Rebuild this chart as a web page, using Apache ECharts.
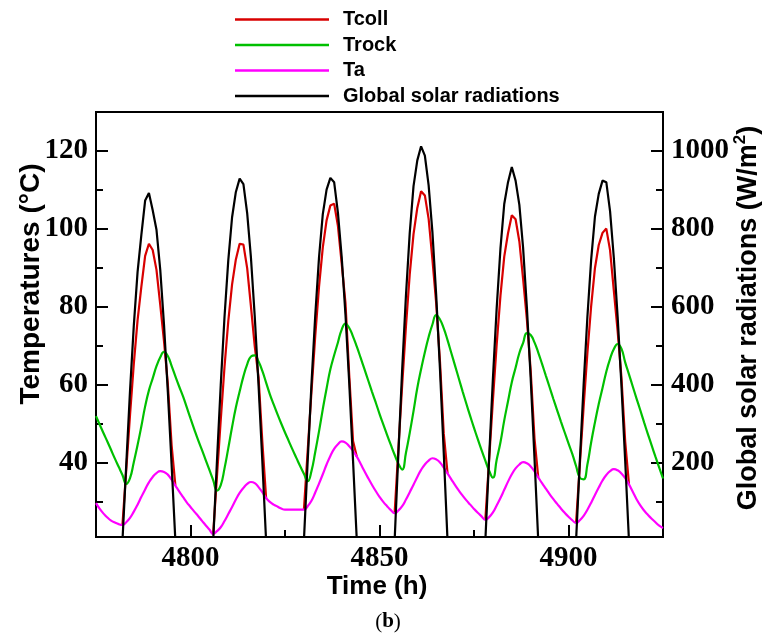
<!DOCTYPE html>
<html>
<head>
<meta charset="utf-8">
<script src="https://cdn.jsdelivr.net/npm/echarts@6/dist/echarts.min.js"></script>
<style>
  html, body { margin: 0; padding: 0; background: #ffffff; }
  #chart { width: 763px; height: 637px; }
</style>
</head>
<body>
<div id="chart"></div>
<script>
// Hourly records starting at hour 4775
const startHour = 4775;

// Ambient temperature Ta (°C), one value per hour, 4775..4925
const taValues = [
  29.7, 28.2, 27.0, 26.0, 25.2, 24.7, 24.3, 24.1,
  24.8, 25.9, 27.5, 29.3, 31.3, 33.2, 35.0, 36.4, 37.4, 37.9,
  37.7, 37.0, 35.7, 34.2, 32.7, 31.3, 29.9, 28.7, 27.5, 26.4, 25.2, 24.0, 22.9, 21.8,
  22.5, 23.5, 25.1, 26.9, 28.7, 30.6, 32.3, 33.6, 34.6, 35.1,
  34.8, 33.8, 32.5, 31.0, 30.0, 29.3, 28.8, 28.3, 28.0, 28.0, 28.0, 28.0, 28.0, 28.0,
  28.9, 30.3, 32.4, 34.7, 37.1, 39.6, 41.8, 43.6, 44.8, 45.5,
  45.2, 44.3, 43.1, 41.6, 39.8, 37.9, 36.1, 34.4, 32.8, 31.3, 30.0, 28.9, 27.9, 27.1,
  27.8, 28.9, 30.6, 32.5, 34.4, 36.4, 38.2, 39.6, 40.6, 41.2,
  40.9, 40.1, 38.8, 37.3, 35.8, 34.3, 32.9, 31.6, 30.4, 29.3, 28.2, 27.2, 26.3, 25.4,
  26.1, 27.3, 29.1, 31.0, 33.1, 35.2, 37.1, 38.6, 39.6, 40.2,
  39.9, 39.1, 37.8, 36.3, 34.8, 33.4, 32.0, 30.7, 29.5, 28.3, 27.2, 26.2, 25.3, 24.6,
  25.3, 26.4, 28.0, 29.8, 31.8, 33.7, 35.5, 36.9, 37.9, 38.4,
  38.1, 37.3, 36.1, 34.5, 32.6, 30.7, 29.1, 27.8, 26.7, 25.7, 24.8, 23.9, 23.3
];

// Rock bed temperature Trock (°C), one value per hour, 4775..4925
const trockValues = [
  52.0, 49.8, 47.6, 45.5, 43.3, 41.1, 39.0, 36.9, 34.6,
  36.1, 40.2, 44.6, 49.4, 54.5, 58.6, 61.7, 64.8, 67.1, 68.5,
  67.4, 64.9, 62.2, 59.6, 57.1, 54.3, 51.4, 48.6, 45.9, 43.4, 40.8, 38.2, 35.6, 32.9,
  34.3, 38.6, 43.8, 49.2, 54.2, 58.3, 62.2, 65.3, 67.3, 67.6,
  66.0, 63.6, 60.6, 57.6, 55.0, 52.5, 50.1, 47.8, 45.6, 43.4, 41.3, 39.2, 37.2, 35.3,
  37.9, 42.8, 48.1, 53.8, 59.1, 64.0, 67.6, 70.9, 74.2, 75.7,
  74.6, 72.4, 69.8, 67.0, 64.1, 61.2, 58.3, 55.5, 52.6, 49.9, 47.2, 44.6, 42.1, 39.8, 38.3,
  42.6, 47.7, 53.3, 59.2, 64.0, 68.4, 72.3, 75.5, 77.9,
  76.8, 74.5, 71.5, 68.2, 64.9, 61.6, 58.3, 55.1, 52.0, 49.0, 46.1, 43.3, 40.6, 38.0, 36.2,
  40.8, 45.3, 50.9, 55.8, 60.7, 64.4, 68.2, 70.8, 73.3,
  72.8, 70.9, 68.3, 65.4, 62.4, 59.4, 56.4, 53.5, 50.6, 47.8, 45.0, 42.3, 39.2, 36.2, 35.8,
  39.6, 45.3, 50.4, 55.1, 59.2, 63.4, 66.7, 69.2, 70.5,
  69.3, 65.8, 62.7, 59.6, 56.5, 53.5, 50.4, 47.4, 44.5, 41.6, 38.8, 36.0
];

// First daylight hour of each day; daytime series run 15 hours from it
const sunriseHours = [4782, 4806, 4830, 4854, 4878, 4902];

// Global solar radiation (W/m2), hourly through each day
const radiationByDay = [
  [0, 195, 385, 552, 690, 785, 873, 892, 848, 798, 695, 553, 383, 196, 0],
  [0, 205, 400, 575, 720, 830, 895, 929, 915, 840, 725, 575, 400, 205, 0],
  [0, 205, 402, 578, 727, 838, 901, 931, 920, 842, 728, 580, 404, 206, 0],
  [0, 225, 440, 630, 790, 910, 976, 1012, 988, 912, 792, 630, 440, 225, 0],
  [0, 213, 416, 597, 750, 864, 920, 959, 924, 862, 750, 597, 416, 213, 0],
  [0, 205, 400, 575, 722, 832, 890, 924, 920, 845, 725, 575, 400, 205, 0]
];

// Collector temperature Tcoll (°C), hourly through each day (equals Ta at night)
const tcollByDay = [
  [24.1, 38.2, 52.3, 65.4, 76.6, 85.2, 93.1, 96.2, 94.6, 89.5, 80.5, 71.1, 60.3, 44.6, 34.2],
  [21.8, 36.6, 51.0, 64.7, 76.4, 85.8, 92.2, 96.2, 96.0, 89.9, 80.0, 69.9, 62.0, 45.5, 31.0],
  [28.0, 43.1, 58.2, 72.6, 85.2, 95.3, 102.2, 106.0, 106.5, 100.8, 91.1, 81.0, 62.4, 45.6, 41.6],
  [27.1, 43.7, 60.0, 75.1, 88.4, 98.7, 105.4, 109.7, 108.6, 102.6, 92.2, 80.9, 66.0, 47.5, 37.3],
  [25.4, 40.8, 56.1, 70.4, 82.9, 92.9, 98.9, 103.5, 102.5, 96.8, 87.1, 76.7, 63.6, 46.3, 36.3],
  [24.6, 39.6, 54.4, 68.2, 80.3, 90.0, 95.9, 99.0, 100.1, 94.5, 84.1, 73.8, 62.0, 45.5, 34.5]
];

// Axis ticks
const xTickLabels = [4800, 4850, 4900];
const xMinorTicks = [4825, 4875];
const tempTickLabels = [40, 60, 80, 100, 120];
const tempMinorTicks = [30, 50, 70, 90, 110];
const radTickLabels = [200, 400, 600, 800, 1000];
const radMinorTicks = [100, 300, 500, 700, 900];

const seriesNames = ['Tcoll', 'Trock', 'Ta', 'Global solar radiations'];

// ---- helpers turning the arrays into [x, y] points ----
const hourly = vals => vals.map((v, i) => [startHour + i, v]);
const daily = days => days.flatMap((vals, d) =>
  vals.map((v, j) => [sunriseHours[d] + j, v]).concat([[sunriseHours[d] + vals.length, '-']]));

const SANS = '"Liberation Sans", Arial, Helvetica, sans-serif';
const SERIF = '"Liberation Serif", "Times New Roman", Times, serif';
const BLACK = '#000000';

const tickLabelStyle = {
  fontFamily: SERIF, fontWeight: 'bold', fontSize: 29, color: BLACK,
  formatter: v => String(v)
};
const tickLine = { color: BLACK, width: 2 };

function mainAxis(extra) {
  return Object.assign({
    type: 'value',
    axisLine: { show: true, onZero: false, lineStyle: { color: BLACK, width: 2 } },
    splitLine: { show: false }
  }, extra);
}
function minorAxis(extra) {
  return Object.assign({
    type: 'value',
    axisLine: { show: false },
    splitLine: { show: false },
    axisLabel: { show: false }
  }, extra);
}

const chart = echarts.init(document.getElementById('chart'), null, { renderer: 'canvas' });

const option = {
  backgroundColor: '#ffffff',
  animation: false,
  grid: {
    left: 96, right: 100, top: 112, bottom: 100,
    show: true, borderColor: BLACK, borderWidth: 2, backgroundColor: 'transparent'
  },
  legend: {
    data: seriesNames,
    orient: 'vertical',
    left: 235, top: 9.5,
    padding: 0,
    icon: 'rect',
    itemWidth: 94, itemHeight: 2.5,
    itemGap: 5.5,
    selectedMode: false,
    textStyle: {
      fontFamily: SANS, fontWeight: 'bold', fontSize: 20, lineHeight: 20,
      color: BLACK, padding: [0, 0, 0, 9]
    }
  },
  xAxis: [
    mainAxis({
      min: 4775, max: 4925, position: 'bottom',
      axisTick: { show: true, inside: true, length: 12, customValues: xTickLabels, lineStyle: tickLine },
      axisLabel: Object.assign({ show: true, margin: 7, customValues: xTickLabels }, tickLabelStyle)
    }),
    minorAxis({
      min: 4775, max: 4925, position: 'bottom',
      axisTick: { show: true, inside: true, length: 7, customValues: xMinorTicks, lineStyle: tickLine }
    })
  ],
  yAxis: [
    mainAxis({
      min: 21, max: 130, position: 'left',
      axisTick: { show: true, inside: true, length: 12, customValues: tempTickLabels, lineStyle: tickLine },
      axisLabel: Object.assign({ show: true, margin: 8, customValues: tempTickLabels }, tickLabelStyle)
    }),
    minorAxis({
      min: 21, max: 130, position: 'left',
      axisTick: { show: true, inside: true, length: 7, customValues: tempMinorTicks, lineStyle: tickLine }
    }),
    mainAxis({
      min: 10, max: 1100, position: 'right',
      axisTick: { show: true, inside: true, length: 12, customValues: radTickLabels, lineStyle: tickLine },
      axisLabel: Object.assign({ show: true, margin: 8, customValues: radTickLabels }, tickLabelStyle)
    }),
    minorAxis({
      min: 10, max: 1100, position: 'right',
      axisTick: { show: true, inside: true, length: 7, customValues: radMinorTicks, lineStyle: tickLine }
    })
  ],
  series: [
    {
      name: 'Tcoll', type: 'line', xAxisIndex: 0, yAxisIndex: 0,
      data: daily(tcollByDay), showSymbol: false, symbol: 'none',
      connectNulls: false, color: '#d80000',
      lineStyle: { color: '#d80000', width: 2.2 }
    },
    {
      name: 'Trock', type: 'line', xAxisIndex: 0, yAxisIndex: 0,
      data: hourly(trockValues), showSymbol: false, symbol: 'none', smooth: 0.5,
      color: '#00c000',
      lineStyle: { color: '#00c000', width: 2.2 }
    },
    {
      name: 'Ta', type: 'line', xAxisIndex: 0, yAxisIndex: 0,
      data: hourly(taValues), showSymbol: false, symbol: 'none', smooth: 0.5,
      color: '#ff00ff',
      lineStyle: { color: '#ff00ff', width: 2.2 }
    },
    {
      name: 'Global solar radiations', type: 'line', xAxisIndex: 0, yAxisIndex: 2,
      data: daily(radiationByDay), showSymbol: false, symbol: 'none',
      connectNulls: false, color: BLACK,
      lineStyle: { color: BLACK, width: 2.2 }
    }
  ],
  graphic: [
    {
      type: 'text', x: 377, y: 587,
      style: {
        text: 'Time (h)', fill: BLACK,
        font: 'bold 26px ' + SANS, align: 'center', verticalAlign: 'middle'
      }
    },
    {
      type: 'text', x: 31, y: 284, rotation: Math.PI / 2,
      style: {
        text: 'Temperatures (°C)', fill: BLACK,
        font: 'bold 28px ' + SANS, align: 'center', verticalAlign: 'middle'
      }
    },
    {
      type: 'text', x: 747, y: 318, rotation: Math.PI / 2,
      style: {
        text: '{a|Global solar radiations (W/m}{s|2}{a|)}',
        align: 'center', verticalAlign: 'middle',
        rich: {
          a: { font: 'bold 27px ' + SANS, fill: BLACK, lineHeight: 30, verticalAlign: 'bottom' },
          s: { font: 'bold 17px ' + SANS, fill: BLACK, lineHeight: 30, verticalAlign: 'top' }
        }
      }
    },
    {
      type: 'text', x: 388, y: 622,
      style: {
        text: '({b|b})', fill: BLACK,
        font: '21px ' + SERIF, align: 'center', verticalAlign: 'middle',
        rich: { b: { font: 'bold 21px ' + SERIF, fill: BLACK } }
      }
    }
  ]
};

chart.setOption(option);
</script>
</body>
</html>
